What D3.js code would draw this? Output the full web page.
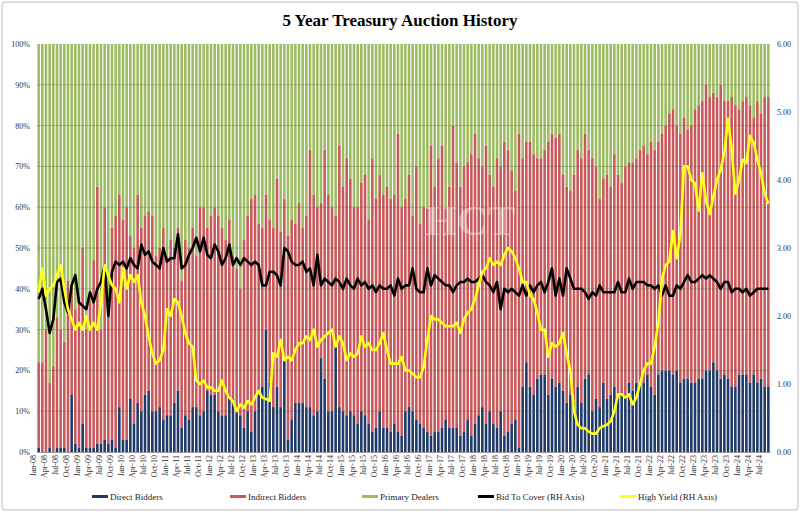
<!DOCTYPE html>
<html><head><meta charset="utf-8">
<script src="https://cdn.jsdelivr.net/npm/d3@7/dist/d3.min.js"></script>
<style>body{margin:0;background:#fff}svg{display:block}text{font-family:"Liberation Serif","DejaVu Serif",serif}</style>
</head><body><svg id="c" width="800" height="514"></svg>
<script>
const yearsFrom = 2008;
const direct = [
1,0,0,1,0,1,1,1,0,14,2,1,
7,1,1,1,2,2,3,2,3,1,11,3,
3,13,7,12,10,14,15,10,10,11,8,9,
9,12,15,6,9,8,11,11,9,10,15,14,
14,10,9,9,14,13,11,9,6,10,5,10,
15,16,30,17,11,16,11,23,3,8,12,12,
12,11,11,9,10,23,18,10,10,26,11,10,
9,10,9,7,10,9,7,5,6,10,6,6,
5,7,5,4,10,11,10,8,7,6,5,4,
5,5,6,8,6,6,6,4,5,8,4,7,
9,11,7,10,7,6,10,4,5,7,8,1,
16,22,16,14,18,19,19,14,18,16,17,15,
12,14,12,16,12,18,19,10,13,11,17,13,
14,16,13,14,14,17,15,17,17,17,19,16,
14,19,20,20,20,19,20,17,18,18,17,17,
18,18,20,20,22,20,18,19,18,16,16,19,
19,19,17,19,17,18,16,16];
const directPlusIndirect = [
22,22,30,17,21,33,30,27,42,40,35,38,
50,30,37,47,65,30,60,35,55,58,63,57,
60,53,50,63,55,58,59,58,48,50,55,48,
52,50,55,42,52,50,55,48,60,60,55,58,
60,58,55,52,57,48,45,40,52,58,62,63,
56,55,63,57,55,67,54,62,53,57,56,61,
55,58,74,63,60,61,74,63,60,58,75,65,
72,67,60,60,66,68,57,72,62,68,63,65,
62,63,78,60,62,68,58,70,56,60,60,75,
65,72,75,60,65,80,71,65,70,71,73,78,
72,70,75,68,65,72,70,76,74,69,64,78,
72,76,76,73,72,72,74,76,78,77,78,68,
65,64,68,74,72,78,74,72,70,62,67,68,
65,73,68,66,70,71,71,72,74,75,73,76,
74,76,78,80,83,84,80,78,82,79,80,84,
85,86,90,87,88,87,90,86,86,87,85,84,
86,87,85,82,86,83,87,87];
const bidToCover = [
2.25,2.4,2.1,1.75,1.95,2.5,2.55,2.2,2.05,2.45,2.6,2.2,
2.15,2.1,2.35,2.2,2.4,2.5,2.75,2.0,2.65,2.8,2.75,2.8,
2.7,2.85,2.75,2.7,3.05,2.9,2.95,2.8,2.75,2.7,3.0,2.8,
2.85,2.85,3.2,2.7,2.75,2.9,3.0,3.15,2.95,3.15,2.9,2.85,
3.05,2.95,2.75,2.85,3.05,2.75,2.85,2.75,2.85,2.8,2.75,2.8,
2.75,2.45,2.45,2.65,2.65,2.6,2.45,3.0,2.95,2.8,2.75,2.75,
2.8,2.65,2.7,2.45,2.9,2.45,2.55,2.5,2.45,2.55,2.5,2.4,
2.55,2.45,2.4,2.55,2.45,2.5,2.4,2.45,2.35,2.45,2.4,2.4,
2.45,2.3,2.55,2.4,2.45,2.45,2.7,2.4,2.35,2.35,2.7,2.45,
2.6,2.55,2.5,2.45,2.45,2.35,2.45,2.5,2.5,2.55,2.5,2.5,
2.55,2.6,2.5,2.45,2.35,2.5,2.1,2.4,2.35,2.4,2.35,2.3,
2.45,2.3,2.45,2.35,2.45,2.5,2.35,2.5,2.7,2.3,2.55,2.3,
2.7,2.55,2.4,2.4,2.4,2.35,2.25,2.35,2.3,2.45,2.35,2.35,
2.35,2.35,2.5,2.35,2.35,2.55,2.4,2.5,2.5,2.5,2.45,2.45,
2.4,2.45,2.3,2.45,2.3,2.3,2.45,2.4,2.5,2.6,2.5,2.5,
2.55,2.6,2.55,2.6,2.55,2.5,2.4,2.5,2.5,2.35,2.4,2.4,
2.35,2.4,2.3,2.35,2.4,2.4,2.4,2.4];
const highYield = [
2.35,2.7,2.3,2.4,2.45,2.6,2.75,2.4,2.1,1.95,1.8,1.9,
1.8,2.0,1.8,1.9,1.8,2.2,2.75,2.6,2.45,2.4,2.2,2.7,
2.4,2.6,2.5,2.6,2.2,2.0,1.7,1.45,1.3,1.35,1.5,2.1,
2.0,2.25,2.2,2.0,1.75,1.6,1.55,1.05,1.0,1.05,0.95,0.95,
0.9,0.9,1.05,0.9,0.8,0.75,0.6,0.7,0.65,0.75,0.7,0.8,
0.9,0.8,0.78,0.75,1.45,1.4,1.65,1.35,1.4,1.35,1.5,1.6,
1.6,1.7,1.65,1.8,1.55,1.65,1.7,1.75,1.8,1.55,1.7,1.6,
1.35,1.45,1.4,1.45,1.7,1.55,1.6,1.5,1.5,1.6,1.75,1.5,
1.3,1.3,1.3,1.4,1.2,1.2,1.15,1.1,1.1,1.25,1.65,2.0,
1.95,1.95,1.9,1.85,1.85,1.85,1.9,1.75,1.95,2.05,2.1,2.25,
2.45,2.65,2.7,2.85,2.75,2.8,2.75,2.9,3.0,2.95,2.85,2.7,
2.5,2.5,2.3,2.25,2.05,1.8,1.8,1.4,1.6,1.55,1.6,1.75,
1.45,1.2,0.6,0.4,0.35,0.35,0.3,0.27,0.27,0.35,0.38,0.4,
0.45,0.6,0.85,0.85,0.8,0.85,0.7,0.8,1.0,1.2,1.3,1.3,
1.55,1.9,2.55,2.75,2.8,3.25,2.85,3.2,4.2,4.2,4.0,3.95,
3.55,4.1,3.7,3.5,3.75,4.0,4.15,4.4,4.9,4.45,3.8,4.0,
4.3,4.25,4.65,4.55,4.3,4.1,3.8,3.65];
const monthNames = ["Jan","Feb","Mar","Apr","May","Jun","Jul","Aug","Sep","Oct","Nov","Dec"];
const leftTicks = [0,10,20,30,40,50,60,70,80,90,100];
const rightTicks = [0,1,2,3,4,5,6];
const legendItems = [["Direct Bidders","#1f3a68"],["Indirect Bidders","#c8585a"],["Primary Dealers","#9dbb62"],["Bid To Cover (RH Axis)","#000"],["High Yield (RH Axis)","#ffff1a"]];

const labels = direct.map((d,i)=>monthNames[i%12]+"-"+String((yearsFrom+Math.floor(i/12))%100).padStart(2,"0"));
const svg = d3.select("#c");
const L=37,R=770,T=44,B=452;
svg.append("rect").attr("x",2).attr("y",2).attr("width",796).attr("height",508).attr("rx",3).attr("fill","#fff").attr("stroke","#bbb");
svg.append("text").attr("x",400).attr("y",26).attr("text-anchor","middle").attr("font-size",17).attr("font-weight","bold").text("5 Year Treasury Auction History");
const x = d3.scaleBand().domain(labels).range([L,R]).paddingInner(0.3).paddingOuter(0.1);
const y = d3.scaleLinear().domain([0,100]).range([B,T]);
const y2 = d3.scaleLinear().domain([0,6]).range([B,T]);
const g = svg.append("g");
labels.forEach((lb,i)=>{
  const bx=x(lb), w=x.bandwidth();
  g.append("rect").attr("x",bx).attr("width",w).attr("y",y(100)).attr("height",y(directPlusIndirect[i])-y(100)).attr("fill","#9dbb62");
  g.append("rect").attr("x",bx).attr("width",w).attr("y",y(directPlusIndirect[i])).attr("height",y(direct[i])-y(directPlusIndirect[i])).attr("fill","#c8585a");
  g.append("rect").attr("x",bx).attr("width",w).attr("y",y(direct[i])).attr("height",y(0)-y(direct[i])).attr("fill","#1f3a68");
});
leftTicks.forEach(t=>{
  if(t>0&&t<100) svg.append("line").attr("x1",L).attr("x2",R).attr("y1",y(t)).attr("y2",y(t)).attr("stroke","#556644").attr("stroke-opacity",0.45).attr("stroke-width",0.8);
});
svg.append("text").attr("x",470).attr("y",235).attr("text-anchor","middle").attr("font-size",42).attr("font-family","Arial").attr("font-weight","bold").attr("fill","#fff").attr("opacity",0.35).text("HCT");
const cx = lb=>x(lb)+x.bandwidth()/2;
const ln = arr=>d3.line().x((d,i)=>cx(labels[i])).y(d=>y2(d))(arr);
svg.append("path").attr("d",ln(bidToCover)).attr("fill","none").attr("stroke","#000").attr("stroke-width",2.6).attr("stroke-linejoin","round");
svg.append("path").attr("d",ln(highYield)).attr("fill","none").attr("stroke","#ffff1a").attr("stroke-width",2.6).attr("stroke-linejoin","round");
const ax = svg.append("g").attr("transform",`translate(${L-4},0)`).call(d3.axisLeft(y).tickValues(leftTicks).tickFormat(d=>d+"%").tickSize(0));
const ax2 = svg.append("g").attr("transform",`translate(${R+4},0)`).call(d3.axisRight(y2).tickValues(rightTicks).tickFormat(d3.format(".2f")).tickSize(0));
[ax,ax2].forEach(a=>{a.select(".domain").remove();a.selectAll("text").attr("font-size",8).attr("font-family","Liberation Serif").attr("fill","#333");});
const xa = svg.append("g").attr("transform",`translate(0,${B})`).call(d3.axisBottom(x).tickValues(labels.filter((d,i)=>i%3===0)).tickSize(0));
xa.select(".domain").attr("stroke","#999");
xa.selectAll("text").attr("font-size",8).attr("font-family","Liberation Serif").attr("fill","#333").attr("text-anchor","end").attr("transform","rotate(-90)").attr("dx","-3").attr("dy","-0.3em").attr("x",0).attr("y",0);
const lg = svg.append("g");
const lx=[92,230,362,478,620];
legendItems.forEach((it,i)=>{
  lg.append("rect").attr("x",lx[i]).attr("y",495).attr("width",16).attr("height",3).attr("fill",it[1]);
  lg.append("text").attr("x",lx[i]+18).attr("y",500).attr("font-size",9).attr("fill","#222").text(it[0]);
});
</script></body></html>
